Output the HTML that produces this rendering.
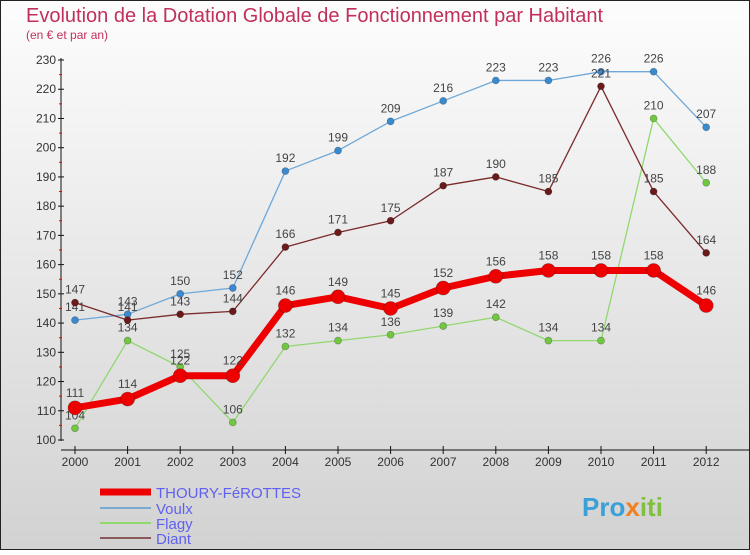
<!DOCTYPE html>
<html><head><meta charset="utf-8"><style>
body{margin:0;width:750px;height:550px;overflow:hidden;font-family:"Liberation Sans",sans-serif}
</style></head><body>
<svg width="750" height="550" xmlns="http://www.w3.org/2000/svg">
<defs><linearGradient id="bg" x1="0" y1="0" x2="0" y2="1"><stop offset="0" stop-color="#fdfdfd"/><stop offset="1" stop-color="#d2d2d2"/></linearGradient></defs>
<rect x="0.5" y="0.5" width="749" height="549" fill="url(#bg)" stroke="#222"/>
<text x="26" y="22" font-size="20" fill="#c0305a">Evolution de la Dotation Globale de Fonctionnement par Habitant</text>
<text x="26" y="39" font-size="12" fill="#c0305a">(en € et par an)</text>
<g id="axes"></g><g id="series"></g>
<g id="legend"></g>
<text x="582" y="516" font-size="26" font-weight="bold" fill="#3aa0d8">Pro<tspan fill="#f08020">x</tspan><tspan fill="#80c040">iti</tspan></text>
</svg>
<script>
const years=["2000","2001","2002","2003","2004","2005","2006","2007","2008","2009","2010","2011","2012"];
const yTicks=[100,110,120,130,140,150,160,170,180,190,200,210,220,230];
const thoury=[111,114,122,122,146,149,145,152,156,158,158,158,146];
const voulx=[141,143,150,152,192,199,209,216,223,223,226,226,207];
const flagy=[104,134,125,106,132,134,136,139,142,134,134,210,188];
const diant=[147,141,143,144,166,171,175,187,190,185,221,185,164];
const NS="http://www.w3.org/2000/svg";
const xs=i=>75+i*52.6, ys=v=>440-(v-100)*380/130;
function mk(t,a,p){const e=document.createElementNS(NS,t);for(const k in a)e.setAttribute(k,a[k]);if(p)p.appendChild(e);return e;}
const ax=document.getElementById('axes');
let yl=mk('line',{x1:61,y1:58,x2:61,y2:441,stroke:'#111'},ax);


yTicks.forEach((v,i)=>{const y=ys(v);mk('line',{x1:58,y1:y,x2:64,y2:y,stroke:'#111'},ax);
 if(i<yTicks.length-1)mk('line',{x1:59,y1:y-14.6,x2:62,y2:y-14.6,stroke:'#e00'},ax);
 const t=mk('text',{x:56,y:y+4,'font-size':12,fill:'#333','text-anchor':'end'},ax);t.textContent=v;
 
 });
let xl=mk('line',{x1:61,y1:450,x2:750,y2:450,stroke:'#111'},ax);


years.forEach((yr,i)=>{const x=xs(i);mk('line',{x1:x,y1:446,x2:x,y2:454,stroke:'#111'},ax);
 const t=mk('text',{x:x,y:466,'font-size':12,fill:'#333','text-anchor':'middle'},ax);t.textContent=yr;
 
 });
const sg=document.getElementById('series');
function series(name,data,color,dot,w,r,dy){
 const g=mk('g',{},sg);
 
 
 mk('polyline',{points:data.map((v,i)=>xs(i)+','+ys(v)).join(' '),fill:'none',stroke:color,'stroke-width':w,'stroke-linejoin':'round'},g);
 data.forEach((v,i)=>{const c=mk('circle',{cx:xs(i),cy:ys(v),r:r,fill:dot,stroke:'rgba(0,0,0,0.3)','stroke-width':0.7},g);
  
  
  const t=mk('text',{x:xs(i),y:ys(v)+dy,'font-size':12,fill:'#444','text-anchor':'middle'},g);t.textContent=v;
  
  });
}
series('voulx',voulx,'#6fa8d8','#3a8ad0',1.3,3.5,-9);
series('flagy',flagy,'#90d870','#70c840',1.3,3.5,-9);
series('diant',diant,'#7a2a2a','#6a1a1a',1.3,3.5,-9);
series('thoury',thoury,'#ee0000','#ee0000',7,7,-11);
const lg=document.getElementById('legend');
[['THOURY-FéROTTES','#ee0000',7,492],['Voulx','#7aaad0',2,508],['Flagy','#90d870',2,523],['Diant','#8a5a5a',2,538]].forEach(([n,c,w,y])=>{
 const l=mk('line',{x1:100,y1:y,x2:151,y2:y,stroke:c,'stroke-width':w},lg);
 
 
 const t=mk('text',{x:156,y:y+6,'font-size':15,fill:'#6060f0'},lg);t.textContent=n;
 
 });
</script>
</body></html>
